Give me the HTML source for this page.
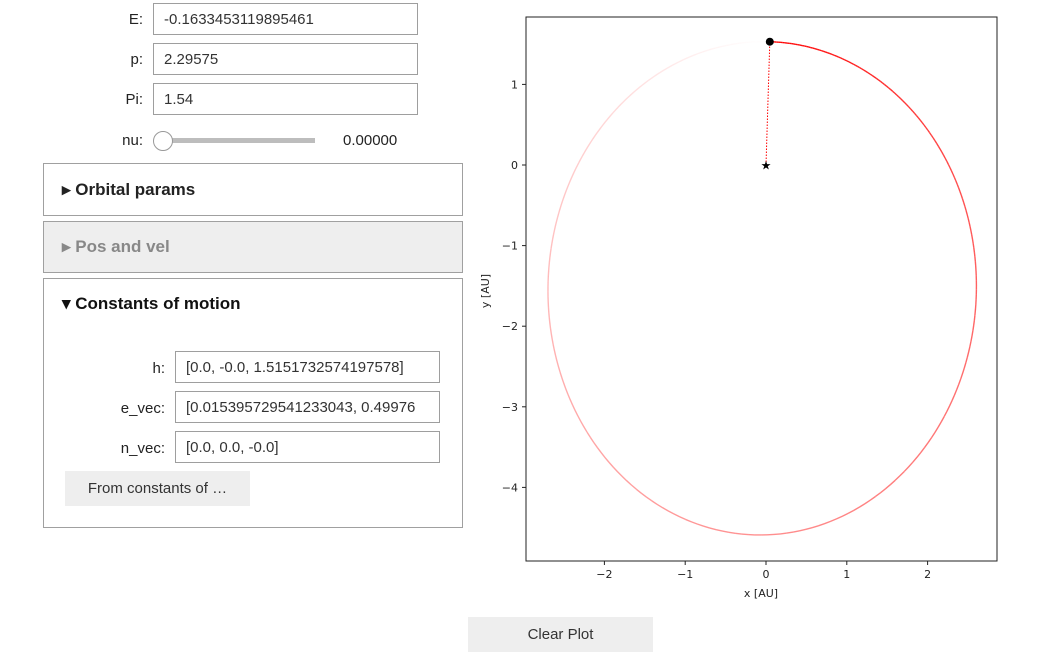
<!DOCTYPE html>
<html><head><meta charset="utf-8"><style>
body{margin:0;width:1061px;height:665px;background:#fff;font-family:"Liberation Sans",sans-serif;position:relative;overflow:hidden;color:#222}
.lbl{position:absolute;font-size:15px;text-align:right;width:60px}
.inp{position:absolute;border:1px solid #9e9e9e;height:32px;box-sizing:border-box;font-size:15px;padding:7px 10px;background:#fff;white-space:nowrap;overflow:hidden;color:#333}
.box{position:absolute;border:1px solid #a0a0a0;box-sizing:border-box}
.hd{position:absolute;left:18px;font-size:17px;font-weight:bold}
.btn{position:absolute;background:#eee;font-size:15px;text-align:center;box-sizing:border-box;padding-top:8px;color:#333}
</style></head><body>
<div class="lbl" style="left:83px;top:11px">E:</div>
<div class="inp" style="left:153px;top:3px;width:265px">-0.1633453119895461</div>
<div class="lbl" style="left:83px;top:51px">p:</div>
<div class="inp" style="left:153px;top:43px;width:265px">2.29575</div>
<div class="lbl" style="left:83px;top:91px">Pi:</div>
<div class="inp" style="left:153px;top:83px;width:265px">1.54</div>
<div class="lbl" style="left:83px;top:132px">nu:</div>
<div style="position:absolute;left:160px;top:138px;width:155px;height:5px;background:#bdbdbd"></div>
<div style="position:absolute;left:153px;top:131px;width:18px;height:18px;border:1px solid #999;border-radius:50%;background:#fff"></div>
<div style="position:absolute;left:343px;top:132px;font-size:15px">0.00000</div>
<div class="box" style="left:43px;top:163px;width:420px;height:53px"><div class="hd" style="top:16px">&#9656; Orbital params</div></div>
<div class="box" style="left:43px;top:221px;width:420px;height:52px;background:#eee;color:#888"><div class="hd" style="top:15px">&#9656; Pos and vel</div></div>
<div class="box" style="left:43px;top:278px;width:420px;height:250px">
<div class="hd" style="top:15px;color:#111">&#9662; Constants of motion</div></div>
<div class="lbl" style="left:105px;top:360px">h:</div>
<div class="inp" style="left:175px;top:351px;width:265px">[0.0, -0.0, 1.5151732574197578]</div>
<div class="lbl" style="left:105px;top:400px">e_vec:</div>
<div class="inp" style="left:175px;top:391px;width:265px">[0.015395729541233043, 0.49976</div>
<div class="lbl" style="left:105px;top:440px">n_vec:</div>
<div class="inp" style="left:175px;top:431px;width:265px">[0.0, 0.0, -0.0]</div>
<div class="btn" style="left:65px;top:471px;width:185px;height:35px;padding-top:9px">From constants of …</div>
<div class="btn" style="left:468px;top:617px;width:185px;height:35px;padding-top:9px">Clear Plot</div>
<svg id="chart" width="1061" height="665" style="position:absolute;left:0;top:0;pointer-events:none" font-family="DejaVu Sans, Liberation Sans, sans-serif"></svg>
<script>
const xTicks=[-2,-1,0,1,2];
const yTicks=[1,0,-1,-2,-3,-4];
const orbitP=[2.29575];
const eVec=[0.015395729541233043,0.49976];
const nuVal=[0];
const NS="http://www.w3.org/2000/svg";
const svg=document.getElementById('chart');
const L=526,T=17,R=997,B=561;
const X=v=>766+v*80.8, Y=v=>165-v*80.6;
function mk(t,a,p){const e=document.createElementNS(NS,t);for(const k in a)e.setAttribute(k,a[k]);(p||svg).appendChild(e);return e;}
const frame=mk('rect',{x:L,y:T,width:R-L,height:B-T,fill:'none',stroke:'#222','stroke-width':1});


xTicks.forEach(v=>{const g=mk('g',{});


mk('line',{x1:X(v),x2:X(v),y1:B,y2:B+4,stroke:'#222'},g);
const t=mk('text',{x:X(v),y:B+17,'text-anchor':'middle','font-size':11,fill:'#222'},g);t.textContent=v<0?'\u2212'+(-v):v;});
yTicks.forEach(v=>{const g=mk('g',{});


mk('line',{x1:L-4,x2:L,y1:Y(v),y2:Y(v),stroke:'#222'},g);
const t=mk('text',{x:L-8,y:Y(v)+4,'text-anchor':'end','font-size':11,fill:'#222'},g);t.textContent=v<0?'\u2212'+(-v):v;});
const xl=mk('text',{x:761,y:597,'text-anchor':'middle','font-size':11,fill:'#222'});xl.textContent='x [AU]';


const yl=mk('text',{x:0,y:0,'text-anchor':'middle','font-size':11,fill:'#222',transform:'translate(489,291) rotate(-90)'});yl.textContent='y [AU]';


const p=orbitP[0],e=Math.hypot(eVec[0],eVec[1]),w=Math.atan2(eVec[1],eVec[0]);
const pt=th=>{const r=p/(1+e*Math.cos(th-w));return [r*Math.cos(th),r*Math.sin(th)];};
const N=360,th0=w+nuVal[0];
for(let i=0;i<N;i++){const a=th0-2*Math.PI*i/N,b=th0-2*Math.PI*(i+1)/N;const P1=pt(a),P2=pt(b);
const s=mk('line',{x1:X(P1[0]),y1:Y(P1[1]),x2:X(P2[0]),y2:Y(P2[1]),stroke:'red','stroke-opacity':Math.pow(1-i/N,1.2).toFixed(3),'stroke-width':1.4});

}
const bp=pt(th0);
const rl=mk('line',{x1:X(0),y1:Y(0),x2:X(bp[0]),y2:Y(bp[1]),stroke:'red','stroke-dasharray':'1.5,1.5','stroke-width':1});


const st=mk('text',{x:X(0),y:Y(0)+4.5,'text-anchor':'middle','font-size':12,fill:'#000'});st.textContent='\u2605';


const body=mk('circle',{cx:X(bp[0]),cy:Y(bp[1]),r:4,fill:'#000'});


</script>
</body></html>
